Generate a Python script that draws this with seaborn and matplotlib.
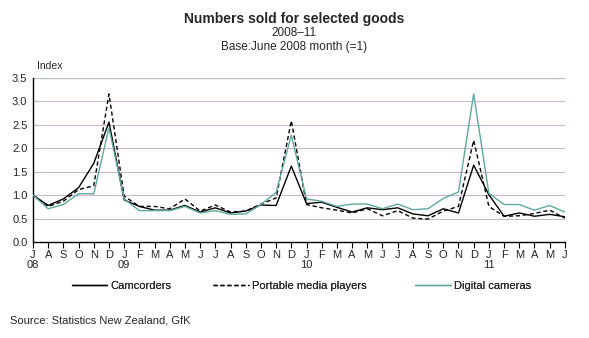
import matplotlib
matplotlib.use("Agg")
import matplotlib.pyplot as plt
import seaborn as sns
import pandas as pd
from matplotlib.lines import Line2D

months = ["J","A","S","O","N","D",
          "J","F","M","A","M","J","J","A","S","O","N","D",
          "J","F","M","A","M","J","J","A","S","O","N","D",
          "J","F","M","A","M","J"]
year_labels = {0: "08", 6: "09", 18: "10", 30: "11"}

camcorders = [1.00, 0.78, 0.92, 1.16, 1.68, 2.56,
              0.90, 0.76, 0.68, 0.68, 0.78, 0.64, 0.73, 0.62, 0.66, 0.79, 0.78, 1.62,
              0.82, 0.85, 0.74, 0.64, 0.73, 0.69, 0.73, 0.60, 0.56, 0.71, 0.62, 1.64,
              1.01, 0.55, 0.62, 0.55, 0.59, 0.54]
portable = [1.00, 0.76, 0.87, 1.12, 1.20, 3.16,
            0.98, 0.76, 0.76, 0.71, 0.92, 0.66, 0.79, 0.64, 0.66, 0.81, 0.94, 2.59,
            0.80, 0.73, 0.68, 0.62, 0.71, 0.56, 0.67, 0.51, 0.49, 0.66, 0.76, 2.17,
            0.76, 0.55, 0.56, 0.61, 0.68, 0.51]
digital = [1.00, 0.71, 0.80, 1.03, 1.03, 2.44,
           0.92, 0.67, 0.67, 0.67, 0.76, 0.62, 0.67, 0.59, 0.60, 0.80, 1.06, 2.28,
           0.92, 0.87, 0.76, 0.81, 0.81, 0.71, 0.81, 0.69, 0.71, 0.93, 1.07, 3.16,
           1.04, 0.80, 0.80, 0.68, 0.78, 0.64]

series_names = ["Camcorders", "Portable media players", "Digital cameras"]

n = len(months)
df = pd.DataFrame({
    "t": list(range(n)) * 3,
    "value": camcorders + portable + digital,
    "series": [series_names[0]] * n + [series_names[1]] * n + [series_names[2]] * n,
})

sns.set_style("white")
plt.rcParams['font.family'] = ['Liberation Sans', 'DejaVu Sans']

fig = plt.figure(figsize=(5.89, 3.38), dpi=100)
ax = fig.add_axes([0.056, 0.284, 0.903, 0.485])

teal = "#5fa8a0"
colors = {"Camcorders": "#000000", "Portable media players": "#000000", "Digital cameras": teal}

for name in series_names:
    sub = df[df["series"] == name]
    sns.lineplot(data=sub, x="t", y="value", ax=ax, color=colors[name],
                 linewidth=1.0, legend=False, zorder=3)
ax.get_lines()[1].set_dashes((3, 2))

ax.set_xlim(0, n - 1)
ax.set_ylim(0, 3.5)
yt = [0.0, 0.5, 1.0, 1.5, 2.0, 2.5, 3.0, 3.5]
ax.set_yticks(yt)
ax.set_yticklabels([f"{v:.1f}" for v in yt], fontsize=8)
for v in yt[1:-1]:
    ax.axhline(v, color="#cdb4d0", linewidth=0.8, zorder=0)
ax.axhline(3.5, color="#b6c8b6", linewidth=1.0, zorder=0)

ax.set_xticks(range(n))
ax.set_xticklabels([m + ("\n" + year_labels[i] if i in year_labels else "") for i, m in enumerate(months)],
                   fontsize=8, va="top", linespacing=1.0)
ax.tick_params(axis="x", direction="out", length=4, width=0.8, color="black", pad=2, bottom=True)
ax.tick_params(axis="y", length=0, pad=4)
ax.set_xlabel("")
ax.set_ylabel("")
for s in ["top", "right"]:
    ax.spines[s].set_visible(False)
for s in ["left", "bottom"]:
    ax.spines[s].set_color("black")
    ax.spines[s].set_linewidth(1.0)
ax.grid(False)

fig.text(0.063, 0.79, "Index", fontsize=7.5, ha="left", va="bottom")

fig.text(0.5, 0.945, "Numbers sold for selected goods", fontsize=10, fontweight="bold", ha="center", va="center")
fig.text(0.5, 0.903, "2008\u201311", fontsize=8.5, ha="center", va="center")
fig.text(0.5, 0.86, "Base:June 2008 month (=1)", fontsize=8.5, ha="center", va="center")

handles = [Line2D([], [], color="black", lw=1.0),
           Line2D([], [], color="black", lw=1.0, dashes=(3, 2)),
           Line2D([], [], color=teal, lw=1.0)]
xpos = [0.122, 0.362, 0.705]
for h, lab, xp in zip(handles, series_names, xpos):
    leg = fig.legend([h], [lab], loc="center left", bbox_to_anchor=(xp, 0.153),
                     frameon=False, fontsize=8, handlelength=3.2, handletextpad=0.3,
                     borderpad=0, borderaxespad=0)
    fig.add_artist(leg)

fig.text(0.017, 0.053, "Source: Statistics New Zealand, GfK", fontsize=8, ha="left", va="center")

fig.savefig("out.png", dpi=100)
